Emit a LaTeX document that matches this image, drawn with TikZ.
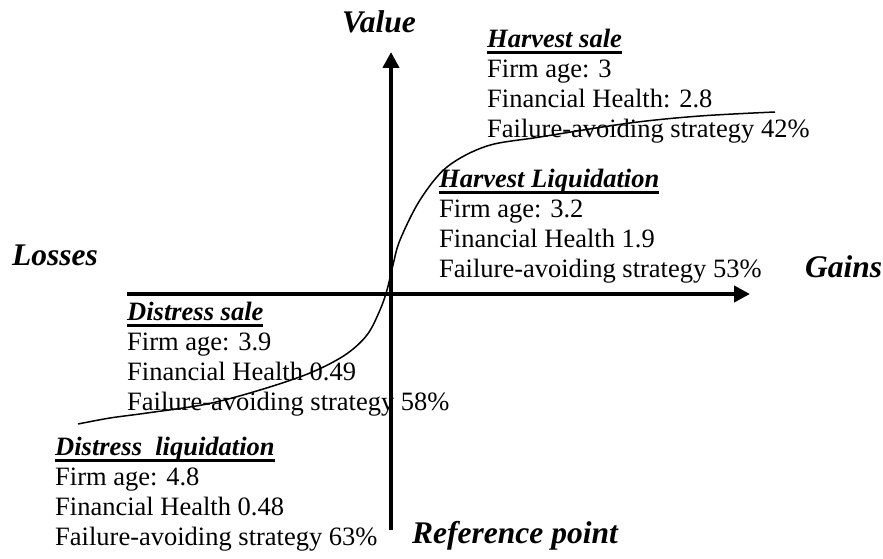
\documentclass[tikz,border=0pt]{standalone}
\usepackage{fontspec}
\setmainfont{Liberation Serif}
\usetikzlibrary{arrows.meta}
\newsavebox{\headbox}
\newcommand{\heading}[1]{\sbox{\headbox}{\bfseries\itshape #1}\rule{0pt}{20pt}\rlap{\rule[-6.3pt]{\wd\headbox}{2.6pt}}\usebox{\headbox}}

\begin{document}
\begin{tikzpicture}[x=1pt, y=-1pt,
    axis/.style={line width=4.5pt, -{Triangle[length=16pt,width=16pt]}},
    lbl/.style={anchor=base west, inner sep=0, font=\fontsize{31.5}{36}\selectfont\bfseries\itshape},
    block/.style={anchor=north west, inner sep=0, align=left, font=\fontsize{26.5}{30}\selectfont}]
  \useasboundingbox (0,0) rectangle (883,559);

  % axes
  \coordinate (xleft) at (127,294);
  \coordinate (xright) at (750,294);
  \coordinate (ybot) at (391,530);
  \coordinate (ytop) at (391,52);
  \draw[axis] (xleft) -- (xright);
  \draw[axis] (ybot) -- (ytop);

  % axis labels
  \node[lbl] (value) at (342,33) {Value};
  \node[lbl] (losses) at (12,265) {Losses};
  \node[lbl] (gains) at (805,277) {Gains};
  \node[lbl] (refpoint) at (412,543) {Reference point};

  % value function
  \draw[line width=1.5pt] plot[smooth, tension=0.55] coordinates {(78,424) (110,418) (147,413) (207,404) (260,390) (310,373) (345,355) (367,335) (380,310) (387,290) (393,265) (400,240) (420,200) (447,167) (487,146) (540,137) (630,123) (700,116) (775,112)};

  % exit routes
  \node[block] (hsale) at (487,27) {\heading{Harvest sale}\\Firm age: 3\\Financial Health: 2.8\\Failure-avoiding strategy 42\%};
  \node[block] (hliq) at (439,167) {\heading{Harvest Liquidation}\\Firm age: 3.2\\Financial Health 1.9\\Failure-avoiding strategy 53\%};
  \node[block] (dsale) at (127,300) {\heading{Distress sale}\\Firm age: 3.9\\Financial Health 0.49\\Failure-avoiding strategy 58\%};
  \node[block] (dliq) at (55,435) {\heading{Distress\ \ liquidation}\\Firm age: 4.8\\Financial Health 0.48\\Failure-avoiding strategy 63\%};
\end{tikzpicture}
\end{document}
